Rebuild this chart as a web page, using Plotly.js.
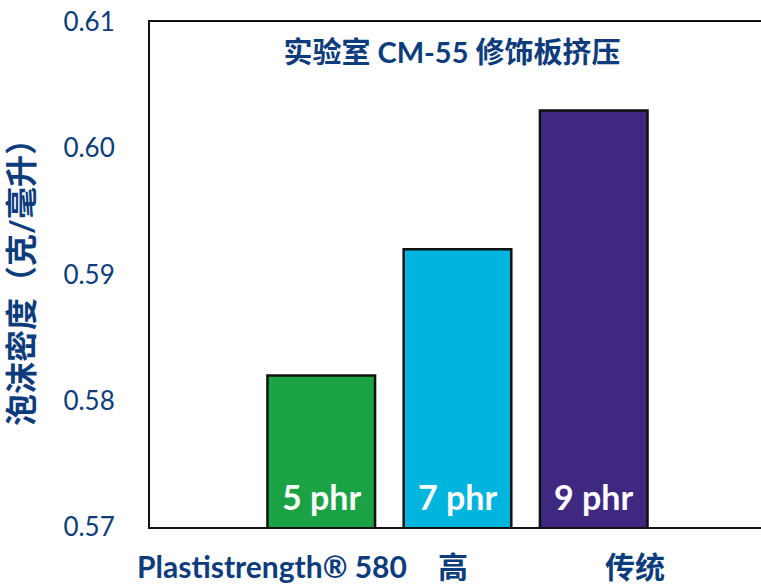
<!DOCTYPE html>
<html>
<head>
<meta charset="utf-8">
<script src="https://cdn.plot.ly/plotly-3.0.1.min.js"></script>
<style>html,body{margin:0;padding:0;background:#fff;}</style>
</head>
<body>
<div id="chart" style="width:761px;height:585px;"></div>
<script>
// Data
var barPositions = [1, 2, 3];
var barLabels = ["5 phr", "7 phr", "9 phr"];
var densities = [0.582, 0.592, 0.603];
var barColors = ["#1aa244", "#00b5dd", "#3f2880"];
var tickValues = [0.57, 0.58, 0.59, 0.60, 0.61];
var tickLabels = ["0.57", "0.58", "0.59", "0.60", "0.61"];
var groupLabels = ["Plastistrength® 580", "高", "传统"];
var groupLabelX = [0.636, 1.967, 3.30];
var chartTitle = "实验室 CM-55 修饰板挤压";
var yTitle = "泡沫密度（克/毫升）";

var navy = "#0d3c7c";
var fam = 'Lato, "Noto Sans CJK SC", sans-serif';

var trace = {
  type: "bar",
  x: barPositions,
  y: densities,
  width: 0.79,
  marker: {color: barColors, line: {color: "#111", width: 2.5}},
  hoverinfo: "none"
};

var annotations = [];
for (var i = 0; i < barLabels.length; i++) {
  annotations.push({
    x: barPositions[i], y: 0.57, xref: "x", yref: "y",
    yanchor: "bottom", xanchor: "center", yshift: 8,
    text: "<b>" + barLabels[i] + "</b>", showarrow: false,
    font: {family: fam, size: 34, color: "#ffffff"}
  });
}
for (var j = 0; j < groupLabels.length; j++) {
  annotations.push({
    x: groupLabelX[j], y: 0, xref: "x", yref: "paper",
    yanchor: "middle", xanchor: "center", yshift: -39,
    text: "<b>" + groupLabels[j] + "</b>", showarrow: false,
    font: {family: fam, size: 30, color: navy}
  });
}

var layout = {
  width: 761, height: 585,
  margin: {l: 150, r: 0, t: 22, b: 58},
  paper_bgcolor: "#ffffff", plot_bgcolor: "#ffffff",
  showlegend: false,
  title: {
    text: "<b>" + chartTitle + "</b>",
    x: 452 / 761, xanchor: "center", y: 1 - 53 / 585, yanchor: "middle",
    font: {family: fam, size: 29, color: navy}
  },
  xaxis: {
    range: [-0.257, 4.228], showticklabels: false, showgrid: false, zeroline: false,
    showline: true, mirror: true, linecolor: "#111", linewidth: 2, ticks: ""
  },
  yaxis: {
    range: [0.57, 0.61], tickvals: tickValues, ticktext: tickLabels,
    showgrid: false, zeroline: false, showline: true, linecolor: "#111", linewidth: 2,
    ticks: "", ticklabelstandoff: 28,
    tickfont: {family: fam, size: 26, color: navy},
    title: {text: "<b>" + yTitle + "</b>", standoff: 20,
            font: {family: fam, size: 32, color: navy}}
  },
  annotations: annotations
};

Plotly.newPlot("chart", [trace], layout, {staticPlot: true, displayModeBar: false});
</script>
</body>
</html>
